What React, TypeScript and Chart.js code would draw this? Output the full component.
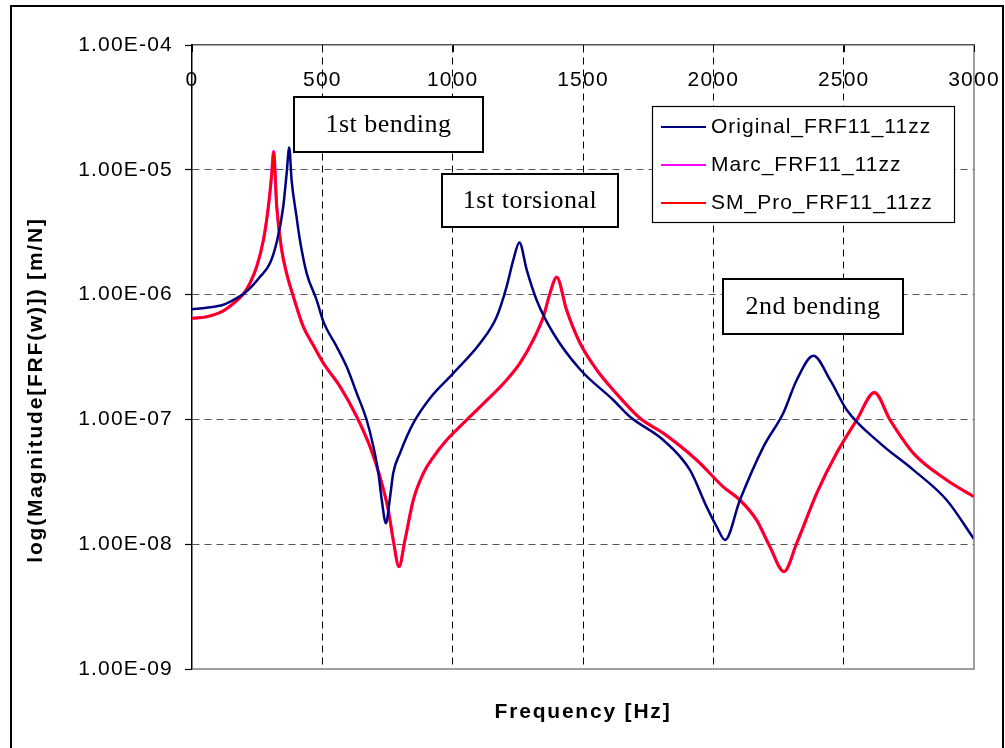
import React, { useEffect, useRef } from "react";
import { Chart, registerables } from "chart.js";

Chart.register(...registerables);

// ---- data ----
const originalFreq = [0, 56, 120, 159, 197, 222, 261, 299, 327, 350, 363, 373, 382, 401, 414, 440, 478, 504, 555, 593, 632, 670, 696, 715, 728, 744, 760, 772, 798, 849, 913, 1002, 1105, 1169, 1207, 1233, 1256, 1284, 1322, 1386, 1489, 1616, 1680, 1808, 1910, 1974, 2013, 2045, 2102, 2192, 2268, 2320, 2384, 2448, 2512, 2639, 2767, 2895, 3000];
const originalValues = [7.62e-7, 7.85e-7, 8.3e-7, 9.06e-7, 1.01e-6, 1.12e-6, 1.39e-6, 1.78e-6, 2.74e-6, 5.06e-6, 9.33e-6, 1.51e-5, 8.32e-6, 4.21e-6, 2.74e-6, 1.48e-6, 9.06e-7, 6.07e-7, 3.83e-7, 2.65e-7, 1.62e-7, 9.89e-8, 6.04e-8, 3.72e-8, 2.26e-8, 1.47e-8, 2.4e-8, 3.72e-8, 5.37e-8, 9.33e-8, 1.48e-7, 2.34e-7, 4.07e-7, 6.65e-7, 1.16e-6, 1.91e-6, 2.61e-6, 1.58e-6, 9.06e-7, 4.9e-7, 2.51e-7, 1.43e-7, 1.05e-7, 6.84e-8, 3.94e-8, 2.0e-8, 1.38e-8, 1.08e-8, 2.26e-8, 6.03e-8, 1.12e-7, 2.07e-7, 3.24e-7, 2.07e-7, 1.19e-7, 6.46e-8, 3.94e-8, 2.26e-8, 1.1e-8];

const marcFreq = [0, 56, 120, 159, 197, 222, 248, 274, 293, 306, 313, 325, 344, 363, 389, 427, 465, 504, 568, 632, 683, 721, 753, 772, 794, 817, 849, 888, 926, 977, 1041, 1105, 1207, 1258, 1309, 1348, 1373, 1399, 1437, 1489, 1553, 1616, 1719, 1808, 1936, 2038, 2102, 2166, 2217, 2271, 2320, 2397, 2473, 2550, 2618, 2678, 2767, 2895, 3000];
const marcValues = [6.46e-7, 6.65e-7, 7.41e-7, 8.5e-7, 1.01e-6, 1.23e-6, 1.67e-6, 2.74e-6, 5.06e-6, 9.33e-6, 1.4e-5, 5.06e-6, 2.29e-6, 1.48e-6, 9.62e-7, 5.53e-7, 3.94e-7, 2.82e-7, 1.83e-7, 1.05e-7, 6.04e-8, 3.47e-8, 1.88e-8, 1.08e-8, 6.61e-9, 1.08e-8, 2.26e-8, 3.72e-8, 5.0e-8, 6.84e-8, 9.33e-8, 1.26e-7, 2.07e-7, 2.82e-7, 4.33e-7, 6.65e-7, 1.02e-6, 1.38e-6, 7.53e-7, 4.07e-7, 2.49e-7, 1.72e-7, 1.02e-7, 7.76e-8, 4.73e-8, 2.88e-8, 2.26e-8, 1.56e-8, 9.55e-9, 6.03e-9, 1.02e-8, 2.57e-8, 5.37e-8, 9.89e-8, 1.64e-7, 9.89e-8, 5.37e-8, 3.27e-8, 2.4e-8];

const smProFreq = [0, 56, 120, 159, 197, 222, 248, 274, 293, 306, 313, 325, 344, 363, 389, 427, 465, 504, 568, 632, 683, 721, 753, 772, 794, 817, 849, 888, 926, 977, 1041, 1105, 1207, 1258, 1309, 1348, 1373, 1399, 1437, 1489, 1553, 1616, 1719, 1808, 1936, 2038, 2102, 2166, 2217, 2271, 2320, 2397, 2473, 2550, 2618, 2678, 2767, 2895, 3000];
const smProValues = [6.46e-7, 6.65e-7, 7.41e-7, 8.5e-7, 1.01e-6, 1.23e-6, 1.67e-6, 2.74e-6, 5.06e-6, 9.33e-6, 1.4e-5, 5.06e-6, 2.29e-6, 1.48e-6, 9.62e-7, 5.53e-7, 3.94e-7, 2.82e-7, 1.83e-7, 1.05e-7, 6.04e-8, 3.47e-8, 1.88e-8, 1.08e-8, 6.61e-9, 1.08e-8, 2.26e-8, 3.72e-8, 5.0e-8, 6.84e-8, 9.33e-8, 1.26e-7, 2.07e-7, 2.82e-7, 4.33e-7, 6.65e-7, 1.02e-6, 1.38e-6, 7.53e-7, 4.07e-7, 2.49e-7, 1.72e-7, 1.02e-7, 7.76e-8, 4.73e-8, 2.88e-8, 2.26e-8, 1.56e-8, 9.55e-9, 6.03e-9, 1.02e-8, 2.57e-8, 5.37e-8, 9.89e-8, 1.64e-7, 9.89e-8, 5.37e-8, 3.27e-8, 2.4e-8];

const seriesLabels = ["Original_FRF11_11zz", "Marc_FRF11_11zz", "SM_Pro_FRF11_11zz"];
const xTickValues = [0, 500, 1000, 1500, 2000, 2500, 3000];
const xTickLabels = ["0", "500", "1000", "1500", "2000", "2500", "3000"];
const yTickValues = [1e-9, 1e-8, 1e-7, 1e-6, 1e-5, 1e-4];
const yTickLabels = ["1.00E-09", "1.00E-08", "1.00E-07", "1.00E-06", "1.00E-05", "1.00E-04"];
const xTitle = "Frequency [Hz]";
const yTitle = "log(Magnitude[FRF(w)]) [m/N]";
const annotationTexts = ["1st bending", "1st torsional", "2nd bending"];

// ---- styling / layout (not data) ----
const W = 1005;
const H = 748;
const seriesColors = ["#000080", "#FF00FF", "#FF0000"];
const annotationBoxes = [
  { x: 294, y: 97, w: 189, h: 55 },
  { x: 442, y: 174, w: 176, h: 53 },
  { x: 723, y: 279, w: 180, h: 55 },
];
const SANS = '"Liberation Sans", Arial, sans-serif';
const SERIF = '"Liberation Serif", "Times New Roman", serif';

const decorPlugin = {
  id: "decor",
  beforeDraw(chart: any) {
    const ctx = chart.ctx;
    ctx.save();
    ctx.fillStyle = "#ffffff";
    ctx.fillRect(0, 0, chart.width, chart.height);
    ctx.restore();
    ctx.letterSpacing = "1.2px";
  },
  afterDraw(chart: any) {
    const ctx = chart.ctx;
    const { left, top, right, bottom } = chart.chartArea;
    ctx.save();
    // right & bottom plot border (gray)
    ctx.strokeStyle = "#808080";
    ctx.lineWidth = 1.5;
    ctx.setLineDash([]);
    ctx.beginPath();
    ctx.moveTo(right, top);
    ctx.lineTo(right, bottom);
    ctx.lineTo(left, bottom);
    ctx.stroke();

    // short inner tick marks on the top axis
    ctx.strokeStyle = "#000000";
    ctx.lineWidth = 1;
    const xs = chart.scales.x;
    xTickValues.forEach((v) => {
      const px = Math.round(xs.getPixelForValue(v)) + 0.5;
      ctx.beginPath();
      ctx.moveTo(px, top);
      ctx.lineTo(px, top + 7);
      ctx.stroke();
    });

    // annotations
    annotationBoxes.forEach((b, i) => {
      ctx.fillStyle = "#ffffff";
      ctx.fillRect(b.x, b.y, b.w, b.h);
      ctx.strokeStyle = "#000000";
      ctx.lineWidth = 2;
      ctx.strokeRect(b.x, b.y, b.w, b.h);
      ctx.fillStyle = "#000000";
      ctx.letterSpacing = "0.5px";
      ctx.font = `26px ${SERIF}`;
      ctx.textAlign = "center";
      ctx.textBaseline = "middle";
      ctx.fillText(annotationTexts[i], b.x + b.w / 2, b.y + b.h / 2 + 1);
    });

    // legend
    const lx = 652, ly = 106, lw = 302, lh = 116;
    ctx.fillStyle = "#ffffff";
    ctx.fillRect(lx, ly, lw, lh);
    ctx.strokeStyle = "#000000";
    ctx.lineWidth = 1.2;
    ctx.strokeRect(lx + 0.5, ly + 0.5, lw, lh);
    ctx.letterSpacing = "1px";
    ctx.font = `21px ${SANS}`;
    ctx.textAlign = "left";
    ctx.textBaseline = "middle";
    chart.data.datasets.forEach((ds: any, i: number) => {
      const yy = 127 + i * 38;
      ctx.strokeStyle = ds.borderColor;
      ctx.lineWidth = 2;
      ctx.beginPath();
      ctx.moveTo(661, yy);
      ctx.lineTo(706, yy);
      ctx.stroke();
      ctx.fillStyle = "#000000";
      ctx.fillText(ds.label, 711, yy);
    });

    // axis titles
    ctx.letterSpacing = "1.8px";
    ctx.font = `bold 21px ${SANS}`;
    ctx.fillStyle = "#000000";
    ctx.textAlign = "center";
    ctx.textBaseline = "middle";
    ctx.fillText(xTitle, (left + right) / 2, 712);
    ctx.save();
    ctx.translate(36, 390);
    ctx.rotate(-Math.PI / 2);
    ctx.fillText(yTitle, 0, 0);
    ctx.restore();

    // outer frame
    ctx.strokeStyle = "#000000";
    ctx.lineWidth = 2;
    ctx.strokeRect(11, 6, 992, 780);
    ctx.restore();
  },
};

export default function App() {
  const canvasRef = useRef<HTMLCanvasElement | null>(null);

  useEffect(() => {
    document.body.style.margin = "0";
    const canvas = canvasRef.current;
    if (!canvas) return;
    const mk = (fs: number[], vs: number[]) => fs.map((f, i) => ({ x: f, y: vs[i] }));
    const edgeX = (c: any) => (c.tick && (c.tick.value === 0 || c.tick.value === 3000) ? "rgba(0,0,0,0)" : "#000000");
    const edgeY = (c: any) => (c.tick && (c.tick.value <= 1e-9 * 1.0001 || c.tick.value >= 1e-4 * 0.9999) ? "rgba(0,0,0,0)" : "#555555");

    const chart = new Chart(canvas, {
      type: "line",
      data: {
        datasets: [
          { label: seriesLabels[0], data: mk(originalFreq, originalValues), borderColor: seriesColors[0], borderWidth: 2.5, pointRadius: 0, cubicInterpolationMode: "monotone", order: 0 },
          { label: seriesLabels[1], data: mk(marcFreq, marcValues), borderColor: seriesColors[1], borderWidth: 3.2, pointRadius: 0, cubicInterpolationMode: "monotone", order: 2 },
          { label: seriesLabels[2], data: mk(smProFreq, smProValues), borderColor: seriesColors[2], borderWidth: 2.5, pointRadius: 0, cubicInterpolationMode: "monotone", order: 1 },
        ],
      },
      options: {
        responsive: false,
        animation: false,
        devicePixelRatio: 1,
        layout: { padding: { left: 0, top: 0, right: 31, bottom: 79 } },
        plugins: { legend: { display: false }, tooltip: { enabled: false }, title: { display: false } },
        scales: {
          x: {
            type: "linear",
            position: "top",
            min: 0,
            max: 3000,
            afterBuildTicks: (s: any) => {
              s.ticks = xTickValues.map((v) => ({ value: v }));
            },
            afterFit: (s: any) => {
              s.height = 45;
              s.paddingLeft = 0;
              s.paddingRight = 0;
            },
            ticks: {
              autoSkip: false,
              maxRotation: 0,
              minRotation: 0,
              mirror: true,
              padding: 23,
              color: "#000000",
              font: { family: SANS, size: 21 },
              callback: (_v: any, i: number) => xTickLabels[i],
            },
            grid: { drawTicks: false, color: edgeX, lineWidth: 1 },
            border: { color: "#555555", width: 1.5, dash: [7, 5] },
          },
          y: {
            type: "logarithmic",
            position: "left",
            min: 1e-9,
            max: 1e-4,
            afterBuildTicks: (s: any) => {
              s.ticks = yTickValues.map((v) => ({ value: v }));
            },
            afterFit: (s: any) => {
              s.width = 192;
              s.paddingTop = 0;
              s.paddingBottom = 0;
            },
            ticks: {
              autoSkip: false,
              padding: 12,
              color: "#000000",
              font: { family: SANS, size: 21 },
              callback: (_v: any, i: number) => yTickLabels[i],
            },
            grid: { color: edgeY, lineWidth: 1, tickLength: 7, tickColor: "#000000", tickWidth: 1.2 },
            border: { color: "#000000", width: 1.5, dash: [7, 5] },
          },
        },
      },
      plugins: [decorPlugin],
    } as any);

    return () => {
      chart.destroy();
    };
  }, []);

  return (
    <div style={{ width: W, height: H }}>
      <canvas ref={canvasRef} width={W} height={H} style={{ display: "block", width: W, height: H }} />
    </div>
  );
}
